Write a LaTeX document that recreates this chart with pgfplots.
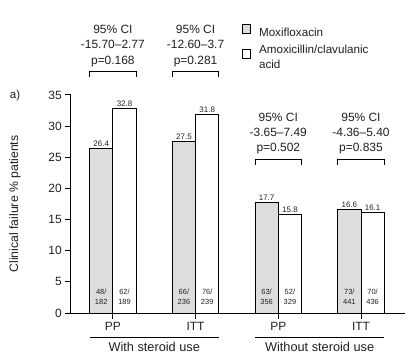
\documentclass[border=0pt]{standalone}
\usepackage{fontspec}
\setmainfont{Liberation Sans}
\usepackage{pgfplots}
\pgfplotsset{compat=1.18}
\definecolor{barg}{RGB}{221,221,223}
\definecolor{txt}{RGB}{35,31,32}
\begin{document}
\begin{tikzpicture}
\useasboundingbox (-70.7bp,-44bp) rectangle (342.3bp,313bp);
\begin{axis}[
  at={(0,0)}, anchor=south west,
  x=82.7bp, y=6.23bp,
  xmin=-0.51, xmax=3.53, ymin=0, ymax=35,
  axis lines=left,
  axis line style={-, line width=0.9bp, black},
  clip=false,
  ytick={0,5,...,35},
  xtick={0,1,2,3},
  xticklabels={PP,ITT,PP,ITT},
  tick align=outside,
  major tick length=5.5bp,
  tick style={line width=0.9bp, black},
  ticklabel style={font=\fontsize{12}{13}\selectfont, text=txt},
  /pgf/number format/assume math mode=true,
  ylabel={Clinical failure \% patients},
  ylabel style={at={(axis description cs:-0.1668,0.5)}, anchor=center, font=\fontsize{12.3}{14}\selectfont, text=txt},
  ybar, bar width=23.3bp,
  nodes near coords,
  nodes near coords style={font=\fontsize{8}{9}\selectfont, text=txt, inner sep=1.5bp,
    /pgf/number format/fixed, /pgf/number format/fixed zerofill,
    /pgf/number format/precision=1, /pgf/number format/assume math mode=true},
  legend style={at={(rel axis cs:0.512,1.3257)}, anchor=north west, draw=none, fill=none,
    inner sep=0pt, font=\fontsize{11.7}{14.5}\selectfont, text=txt, row sep=4bp,
    column sep=6bp,
    cells={anchor=west, align=left}},
]
\addplot[fill=barg, draw=black, line width=0.8bp, bar shift=-11.65bp,
  legend image code/.code={\draw[fill=barg, draw=black, line width=0.8bp] (0bp,-1bp) rectangle (8.3bp,8bp);}]
  coordinates {(0,26.4) (1,27.5) (2,17.7) (3,16.6)};
\addplot[fill=white, draw=black, line width=0.8bp, bar shift=11.65bp,
  legend image code/.code={\draw[fill=white, draw=black, line width=0.8bp] (0bp,-1bp) rectangle (8.3bp,8bp);}]
  coordinates {(0,32.8) (1,31.8) (2,15.8) (3,16.1)};
\legend{Moxifloxacin, Amoxicillin/clavulanic\\acid}

% counts inside bars
\tikzset{cnt/.style={anchor=south, inner sep=0pt, align=center, text=txt,
  font=\fontsize{7.5}{10.5}\selectfont, yshift=8bp}}
\node[cnt, xshift=-11.65bp] at (axis cs:0,0) {48/\\182};
\node[cnt, xshift=11.65bp]  at (axis cs:0,0) {62/\\189};
\node[cnt, xshift=-11.65bp] at (axis cs:1,0) {66/\\236};
\node[cnt, xshift=11.65bp]  at (axis cs:1,0) {76/\\239};
\node[cnt, xshift=-11.65bp] at (axis cs:2,0) {63/\\356};
\node[cnt, xshift=11.65bp]  at (axis cs:2,0) {52/\\329};
\node[cnt, xshift=-11.65bp] at (axis cs:3,0) {73/\\441};
\node[cnt, xshift=11.65bp]  at (axis cs:3,0) {70/\\436};

% brackets
\draw[line width=0.8bp] (axis cs:-0.2817,37.9) |- (axis cs:0.2817,38.7) -- (axis cs:0.2817,37.9);
\draw[line width=0.8bp] (axis cs:0.7183,37.9) |- (axis cs:1.2817,38.7) -- (axis cs:1.2817,37.9);
\draw[line width=0.8bp] (axis cs:1.7183,23.8) |- (axis cs:2.2817,24.67) -- (axis cs:2.2817,23.8);
\draw[line width=0.8bp] (axis cs:2.7183,23.8) |- (axis cs:3.2817,24.67) -- (axis cs:3.2817,23.8);

\tikzset{ci/.style={anchor=south, inner sep=0pt, align=center, text=txt,
  font=\fontsize{12}{15.3}\selectfont, yshift=5bp}}
\node[ci] at (axis cs:0,38.7) {95\% CI\\-15.70\textendash2.77\\p=0.168};
\node[ci] at (axis cs:1,38.7) {95\% CI\\-12.60\textendash3.7\\p=0.281};
\node[ci] at (axis cs:2,24.67) {95\% CI\\-3.65\textendash7.49\\p=0.502};
\node[ci] at (axis cs:3,24.67) {95\% CI\\-4.36\textendash5.40\\p=0.835};

% group lines and labels
\draw[line width=0.9bp] ([yshift=-24bp]axis cs:-0.2817,0) -- ([yshift=-24bp]axis cs:1.2817,0);
\draw[line width=0.9bp] ([yshift=-24bp]axis cs:1.7183,0) -- ([yshift=-24bp]axis cs:3.2817,0);
\node[anchor=base, inner sep=0pt, text=txt, font=\fontsize{12.8}{14}\selectfont] at ([yshift=-38bp]axis cs:0.5,0) {With steroid use};
\node[anchor=base, inner sep=0pt, text=txt, font=\fontsize{12.8}{14}\selectfont] at ([yshift=-38bp]axis cs:2.5,0) {Without steroid use};

% panel letter
\node[anchor=base, inner sep=0pt, text=txt, font=\fontsize{11.5}{13}\selectfont] at (axis cs:-1.1835,34.43) {a)};
\end{axis}
\end{tikzpicture}
\end{document}
